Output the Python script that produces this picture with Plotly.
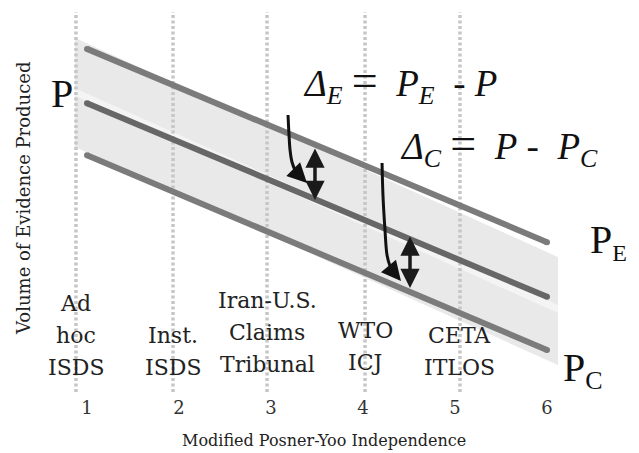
import plotly.graph_objects as go

# ---- data ----
tick_values = [1, 2, 3, 4, 5, 6]
tick_labels = ["1", "2", "3", "4", "5", "6"]

categories = [["Ad", "hoc", "ISDS"], ["Inst.", "ISDS"], ["Iran-U.S.", "Claims", "Tribunal"],
              ["WTO", "ICJ"], ["CETA", "ITLOS"]]
category_x = [0.88, 1.935, 2.957, 4.022, 5.054]
category_label_y = [7.27, 7.27, 8.05, 8.57, 7.27]   # centre of the bottom line
guide_y = [0.78, 99.48]

line_x = [1.0, 6.0]
p_e = [89.9, 39.7]      # upper line (P_E)
p_mid = [75.8, 25.5]    # middle line (P)
p_c = [62.3, 11.7]      # lower line (P_C)

band_x = [0.87, 6.12]
band_top = [92.7, 35.8]
band_upper_bottom = [79.7, 23.4]
band_lower_top = [77.7, 21.3]
band_bottom = [64.4, 7.8]

curve1_x = [3.185, 3.196, 3.207, 3.228, 3.261, 3.293]
curve1_y = [72.73, 67.53, 63.64, 60.52, 58.44, 57.14]
head1_tail = [3.272, 57.92]
head1_tip = [3.391, 55.06]

curve2_x = [4.207, 4.217, 4.239, 4.261, 4.293, 4.326]
curve2_y = [60.26, 51.95, 42.86, 36.36, 33.51, 31.95]
head2_tail = [4.304, 32.73]
head2_tip = [4.413, 29.61]

delta_e_arrow = [3.478, 64.42, 50.65]   # x, y_top, y_bottom
delta_c_arrow = [4.511, 41.56, 27.79]

SERIF = "DejaVu Serif"
MATH = "Liberation Serif"
NB = "\u00a0"

fig = go.Figure()


def poly(x0, x1, ya, yb, color):
    fig.add_trace(go.Scatter(
        x=[x0, x1, x1, x0, x0], y=[ya[0], ya[1], yb[1], yb[0], ya[0]],
        fill="toself", fillcolor=color, mode="lines", line=dict(width=0, color=color),
        hoverinfo="skip", showlegend=False))


# band (light strip underneath, two darker parallelograms on top)
poly(band_x[0], band_x[1], band_top, band_bottom, "#f4f4f4")
poly(band_x[0], band_x[1], band_top, band_upper_bottom, "#e9e9e9")
poly(band_x[0], band_x[1], band_lower_top, band_bottom, "#e9e9e9")

# dotted guide lines
for cx in category_x:
    fig.add_trace(go.Scatter(x=[cx, cx], y=guide_y, mode="lines",
                             line=dict(color="#c6c6c6", width=3.5, dash="3px,2.5px"),
                             hoverinfo="skip", showlegend=False))

# main lines
for ys, col in [(p_e, "#7b7b7b"), (p_mid, "#676767"), (p_c, "#7b7b7b")]:
    fig.add_trace(go.Scatter(x=line_x, y=ys, mode="lines+markers",
                             line=dict(color=col, width=6),
                             marker=dict(color=col, size=6, line=dict(width=0)),
                             hoverinfo="skip", showlegend=False))

# curved arrow shafts
for cx_, cy_ in [(curve1_x, curve1_y), (curve2_x, curve2_y)]:
    fig.add_trace(go.Scatter(x=cx_, y=cy_, mode="lines",
                             line=dict(color="#111111", width=3, shape="spline"),
                             hoverinfo="skip", showlegend=False))

annotations = []
# arrow heads for curved arrows
for tail, tip in [(head1_tail, head1_tip), (head2_tail, head2_tip)]:
    annotations.append(dict(x=tip[0], y=tip[1], ax=tail[0], ay=tail[1],
                            xref="x", yref="y", axref="x", ayref="y",
                            text="", showarrow=True, arrowhead=2, arrowsize=1.3,
                            arrowwidth=3, arrowcolor="#111111", standoff=0))
# double arrows
for da in [delta_e_arrow, delta_c_arrow]:
    annotations.append(dict(x=da[0], y=da[2], ax=da[0], ay=da[1],
                            xref="x", yref="y", axref="x", ayref="y",
                            text="", showarrow=True, arrowhead=2, startarrowhead=2,
                            arrowside="end+start", arrowsize=1.1, startarrowsize=1.1,
                            arrowwidth=3.5, arrowcolor="#1a1a1a", standoff=0, startstandoff=0))

# category labels (one annotation per line, 32 px line spacing)
for lines, cx, ly in zip(categories, category_x, category_label_y):
    n = len(lines)
    for i, word in enumerate(lines):
        annotations.append(dict(x=cx, y=ly, xref="x", yref="y", text=word, showarrow=False,
                                xanchor="center", yanchor="middle", yshift=32 * (n - 1 - i),
                                font=dict(family=SERIF, size=22, color="#222222")))

# formulas
EQ = "<span style='font-size:46px'>=</span>"
annotations.append(dict(
    x=4.40, y=81.3, xref="x", yref="y", showarrow=False,
    text="<i>Δ<sub>E</sub></i>" + NB + EQ + NB + NB +
         "<i>P<sub>E</sub></i>" + NB + NB + "-" + NB + "<i>P</i>",
    font=dict(family=MATH, size=37, color="#111111")))
annotations.append(dict(
    x=5.478, y=64.9, xref="x", yref="y", showarrow=False,
    text="<i>Δ<sub>C</sub></i>" + NB + EQ + NB + NB +
         "<i>P</i>" + NB + "-" + NB + NB + "<i>P<sub>C</sub></i>",
    font=dict(family=MATH, size=37, color="#111111")))

# line labels
annotations.append(dict(x=0.728, y=78.4, xref="x", yref="y", showarrow=False, text="P",
                        font=dict(family=MATH, size=40, color="#111111")))
annotations.append(dict(x=6.45, y=39.9, xref="x", yref="y", showarrow=False,
                        xanchor="left",
                        text="P<sub><span style='font-size:24px'>E</span></sub>",
                        font=dict(family=MATH, size=40, color="#111111")))
annotations.append(dict(x=6.15, y=6.4, xref="x", yref="y", showarrow=False,
                        xanchor="left",
                        text="P<sub><span style='font-size:26px'>C</span></sub>",
                        font=dict(family=MATH, size=40, color="#111111")))

# axis titles
annotations.append(dict(x=-0.0272, y=0.5117, xref="paper", yref="paper", showarrow=False,
                        text="Volume of Evidence Produced", textangle=-90,
                        xanchor="center", yanchor="middle",
                        font=dict(family=SERIF, size=18, color="#222222")))
annotations.append(dict(x=0.482, y=-0.117, xref="paper", yref="paper", showarrow=False,
                        text="Modified Posner-Yoo Independence",
                        xanchor="center", yanchor="middle",
                        font=dict(family=SERIF, size=16, color="#222222")))

# the page body adds an 8 px offset, so the figure is sized to fill the rest of the window
fig.update_layout(
    width=631, height=445,
    margin=dict(l=32, r=10, t=2, b=58, autoexpand=False),
    paper_bgcolor="white", plot_bgcolor="white",
    showlegend=False,
    annotations=annotations,
    xaxis=dict(range=[0.4891, 6.8913], tickvals=tick_values, ticktext=tick_labels,
               showgrid=False, zeroline=False, showline=False, ticks="", automargin=False,
               tickfont=dict(family=SERIF, size=18, color="#333333")),
    yaxis=dict(range=[0, 100], showgrid=False, zeroline=False, showline=False,
               showticklabels=False, ticks="", automargin=False),
)

fig.write_html("out.html")
